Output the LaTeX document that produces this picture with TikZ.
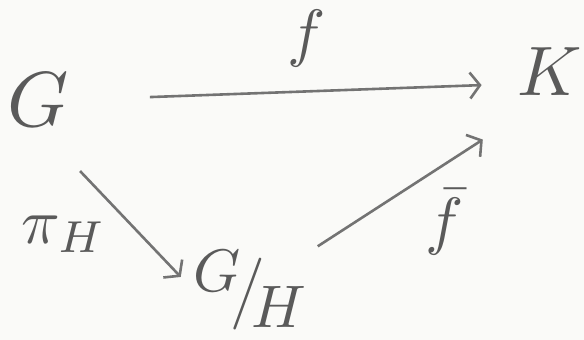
\documentclass[tikz,border=0pt]{standalone}
\usepackage{amsmath}
\usepackage{graphicx}
\usetikzlibrary{arrows.meta, positioning}
\definecolor{pencil}{RGB}{90, 90, 90}
\definecolor{paper}{RGB}{250, 250, 248}
\newcommand{\pencilmath}[2]{\scalebox{#1}{$#2$}}

\begin{document}
\begin{tikzpicture}[
  x=1pt, y=-1pt,
  obj/.style={text=pencil, inner sep=0pt},
  lbl/.style={text=pencil, inner sep=0pt},
  arrow/.style={-{Straight Barb[length=10pt, width=26pt]}, line width=2.6pt, color=pencil!85}
]

\fill[paper] (0,0) rectangle (584,340);
\useasboundingbox (0,0) rectangle (584,340);

% Objects
\node[obj] (G) at (38,100) {\pencilmath{7.8}{G}};
\node[obj] (K) at (550,72) {\pencilmath{7}{K}};
\node[obj] (GH) at (250,290)
  {\pencilmath{6}{\raisebox{0.3em}{$G$}\mkern-3mu\big/\mkern-4mu\raisebox{-0.3em}{$H$}}};

% Arrows
\draw[arrow, shorten <=81pt, shorten >=36pt] (G.east) -- node[lbl, pos=0.53, above=23pt]{\pencilmath{6.4}{f}} (K.-160);
\draw[arrow, shorten <=61pt, shorten >=18pt] (G.south) -- node[lbl, pos=0.45, below left={14pt and 0pt}]{\pencilmath{6.4}{\pi_H}} (GH.west);
\draw[arrow, shorten <=13pt, shorten >=80pt] (GH) -- node[lbl, pos=0.45, below right={5pt and 8pt}]{\pencilmath{6.4}{\bar{f}}} (K.south);

\end{tikzpicture}
\end{document}
